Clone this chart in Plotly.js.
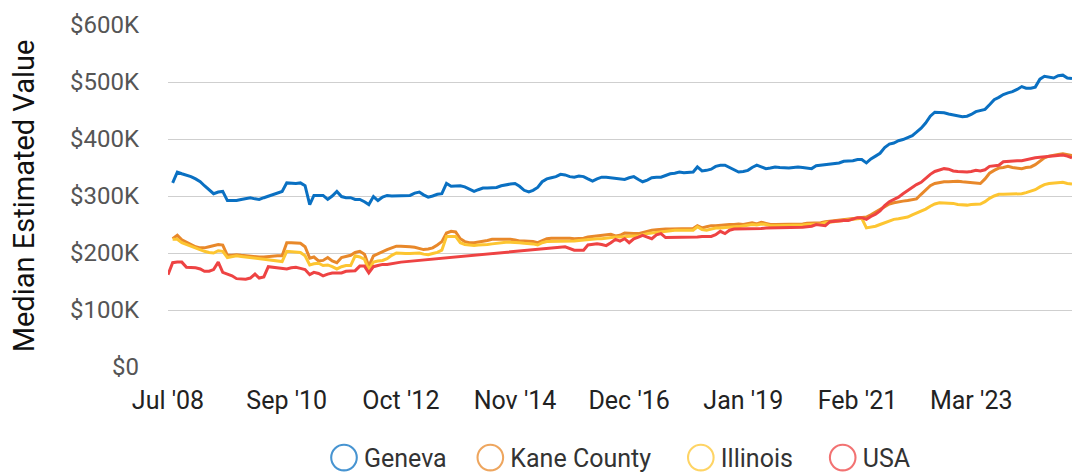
<!DOCTYPE html>
<html>
<head>
<meta charset="utf-8">
<script src="https://cdn.plot.ly/plotly-3.0.1.min.js"></script>
<style>
  html, body { margin: 0; padding: 0; background: #fff; }
  #chart { width: 1073px; height: 472px; }
</style>
</head>
<body>
<div id="chart"></div>
<script>
// ---- data (values in $K, monthly from Jul 2008) ----
const startYear = 2008, startMonth = 7, monthCount = 199;

const geneva = [null,
  323,342,339,337,334,330,325,318,310,304,307,308,292,292,292,294,296,297,295,294,
  297,300,303,306,308,323,322,322,323,318,285,301,301,301,294,300,308,299,297,297,
  294,294,290,285,299,292,298,301,300,300,300,301,301,305,307,302,298,300,303,304,
  322,317,317,318,316,312,308,311,314,314,314,315,318,320,321,322,317,310,307,310,
  315,325,330,332,334,338,337,334,333,335,334,330,326,330,333,333,332,331,330,329,
  332,334,329,325,328,332,333,333,336,339,340,342,341,341,342,351,344,345,347,352,
  354,354,350,345,342,343,345,350,354,351,348,349,351,350,349,349,350,351,350,349,
  348,353,354,355,356,357,358,361,361,362,364,364,358,365,370,375,385,391,393,397,
  399,402,406,412,419,428,440,447,447,446,444,442,440,439,440,443,448,450,452,460,
  469,473,478,481,483,487,492,489,489,491,505,510,508,507,511,512,507,506];

const kaneCounty = [null,
  225,231,223,219,214,211,209,209,211,213,215,214,196,196,197,196,195,194,194,193,
  193,194,194,195,195,218,218,217,217,211,191,193,186,187,192,186,183,192,194,196,
  201,203,198,177,195,199,203,206,209,212,212,212,211,210,208,206,207,209,214,220,
  235,238,237,225,220,218,218,219,221,222,224,224,225,225,224,223,221,221,221,220,
  218,222,225,226,226,227,227,226,225,225,226,228,229,231,232,232,233,230,231,235,
  234,234,234,236,238,240,241,242,242,242,242,242,242,242,243,248,244,246,248,248,
  249,249,250,250,251,250,251,253,251,254,252,250,250,250,250,250,250,250,251,252,
  252,252,253,255,256,257,257,258,259,260,262,262,263,267,272,276,281,286,288,290,
  291,292,293,295,303,311,318,322,324,325,325,326,326,325,324,324,323,322,330,340,
  345,349,350,352,350,349,348,350,351,355,361,367,370,372,373,374,373,371];

const illinois = [null,
  224,224,218,215,212,208,205,203,201,200,204,203,192,194,195,194,193,193,192,191,
  190,189,188,186,185,203,202,201,201,195,179,181,182,178,179,176,172,176,178,178,
  195,193,189,170,184,186,187,190,196,200,199,199,199,199,200,198,197,199,201,205,
  229,229,229,218,215,214,213,214,214,215,216,217,219,219,219,219,218,217,217,216,
  214,218,220,220,221,221,221,221,221,222,223,224,225,225,225,226,228,228,228,229,
  229,230,230,232,234,235,236,238,239,239,240,240,240,240,240,246,241,240,242,244,
  244,245,245,246,246,247,248,250,249,251,250,248,248,248,248,248,248,248,249,250,
  250,250,251,253,254,255,255,256,257,258,260,261,244,245,247,250,253,256,259,260,
  261,263,267,270,273,277,282,286,288,288,288,287,285,284,284,285,285,286,290,296,
  300,303,303,303,303,304,304,306,308,311,316,320,322,323,324,324,322,321];

// USA: no monthly values between Nov '12 and Sep '15 (line connects the gap)
const usa = [
  162,183,184,184,175,175,174,172,168,168,171,184,166,163,160,155,154,154,156,163,
  156,158,176,175,173,172,172,174,175,173,171,162,166,164,160,163,165,165,165,168,
  168,169,177,177,165,176,178,180,180,181,183,184,
  null,null,null,null,null,null,null,null,null,null,null,null,null,null,null,null,null,
  null,null,null,null,null,null,null,null,null,null,null,null,null,null,null,null,null,null,
  211,208,205,205,205,214,215,216,215,213,218,224,221,225,218,225,228,231,228,225,
  232,234,227,227,227,228,228,228,228,228,229,229,229,232,238,234,240,242,242,
  243,243,242,242,243,244,244,244,244,244,244,244,245,245,246,247,250,249,248,255,
  256,257,257,257,260,262,262,259,264,268,274,283,290,294,298,304,310,316,320,324,
  331,338,343,346,348,347,344,343,342,342,343,345,344,346,352,353,354,360,361,361,
  362,362,364,366,367,368,369,370,371,371,372,370,367];

const seriesNames = ['Geneva', 'Kane County', 'Illinois', 'USA'];
const seriesColors = ['#0a70c2', '#e8882a', '#fdc531', '#ee4343'];
const xTickDates = ['2008-07-01','2010-09-01','2012-10-01','2014-11-01','2016-12-01','2019-01-01','2021-02-01','2023-03-01'];
const xTickLabels = ["Jul '08","Sep '10","Oct '12","Nov '14","Dec '16","Jan '19","Feb '21","Mar '23"];
const yTickValues = [0, 100000, 200000, 300000, 400000, 500000, 600000];
const yTickLabels = ['$0', '$100K', '$200K', '$300K', '$400K', '$500K', '$600K'];

// ---- build ----
const months = [];
for (let i = 0; i < monthCount; i++) {
  const m0 = startMonth - 1 + i;
  const y = startYear + Math.floor(m0 / 12);
  const m = (m0 % 12) + 1;
  months.push(y + '-' + String(m).padStart(2, '0') + '-01');
}
const toDollars = arr => arr.map(v => v === null ? null : v * 1000);

const allSeries = [geneva, kaneCounty, illinois, usa];
const legendPads = ['\u00a0\u00a0\u00a0', '\u00a0\u00a0\u00a0\u00a0', '\u00a0\u00a0\u00a0\u00a0', ''];
const traces = [];
allSeries.forEach((s, k) => {
  traces.push({
    type: 'scatter', mode: 'lines', name: seriesNames[k],
    x: months, y: toDollars(s),
    line: { color: seriesColors[k], width: 3 },
    connectgaps: true, showlegend: false, hoverinfo: 'x+y'
  });
});
// legend entries (open circles); trailing spaces widen the gap between items
allSeries.forEach((s, k) => {
  traces.push({
    type: 'scatter', mode: 'markers', name: seriesNames[k] + legendPads[k],
    x: [null], y: [null],
    marker: { symbol: 'circle-open', size: 16, color: seriesColors[k], opacity: 0.75, line: { width: 1.3, color: seriesColors[k] } },
    showlegend: true, hoverinfo: 'skip'
  });
});

const layout = {
  width: 1073, height: 472,
  margin: { l: 168, r: 1, t: 25, b: 105 },
  paper_bgcolor: '#fff', plot_bgcolor: '#fff',
  font: { family: 'Roboto, sans-serif', color: '#333' },
  showlegend: true,
  xaxis: {
    type: 'date',
    range: [months[0], months[monthCount - 1]],
    tickvals: xTickDates, ticktext: xTickLabels,
    showgrid: false, zeroline: false, showline: false, ticks: '',
    tickfont: { size: 25, color: '#222' },
    ticklabelstandoff: 16,
    automargin: false,
    fixedrange: true
  },
  yaxis: {
    range: [0, 600000],
    tickvals: yTickValues, ticktext: yTickLabels,
    showgrid: true, gridcolor: '#cfcfcf', gridwidth: 1,
    zeroline: false, showline: false, ticks: '',
    tickfont: { size: 24, color: '#555' },
    ticklabelstandoff: 28,
    title: { text: 'Median Estimated Value', font: { size: 29, color: '#111' }, standoff: 26 },
    automargin: false,
    fixedrange: true
  },
  legend: {
    orientation: 'h', x: 0.5, xanchor: 'center',
    yref: 'container', y: 0.03, yanchor: 'middle',
    font: { size: 25, color: '#333' },
    itemclick: false, itemdoubleclick: false
  }
};

Plotly.newPlot('chart', traces, layout, { displayModeBar: false }).then(gd => {
  // enlarge legend circles to match the reference's larger symbols
  document.querySelectorAll('#chart .legend .legendpoints path').forEach(p => {
    const t = p.getAttribute('transform') || '';
    p.setAttribute('transform', t + ' scale(1.6)');
  });
});
</script>
</body>
</html>
